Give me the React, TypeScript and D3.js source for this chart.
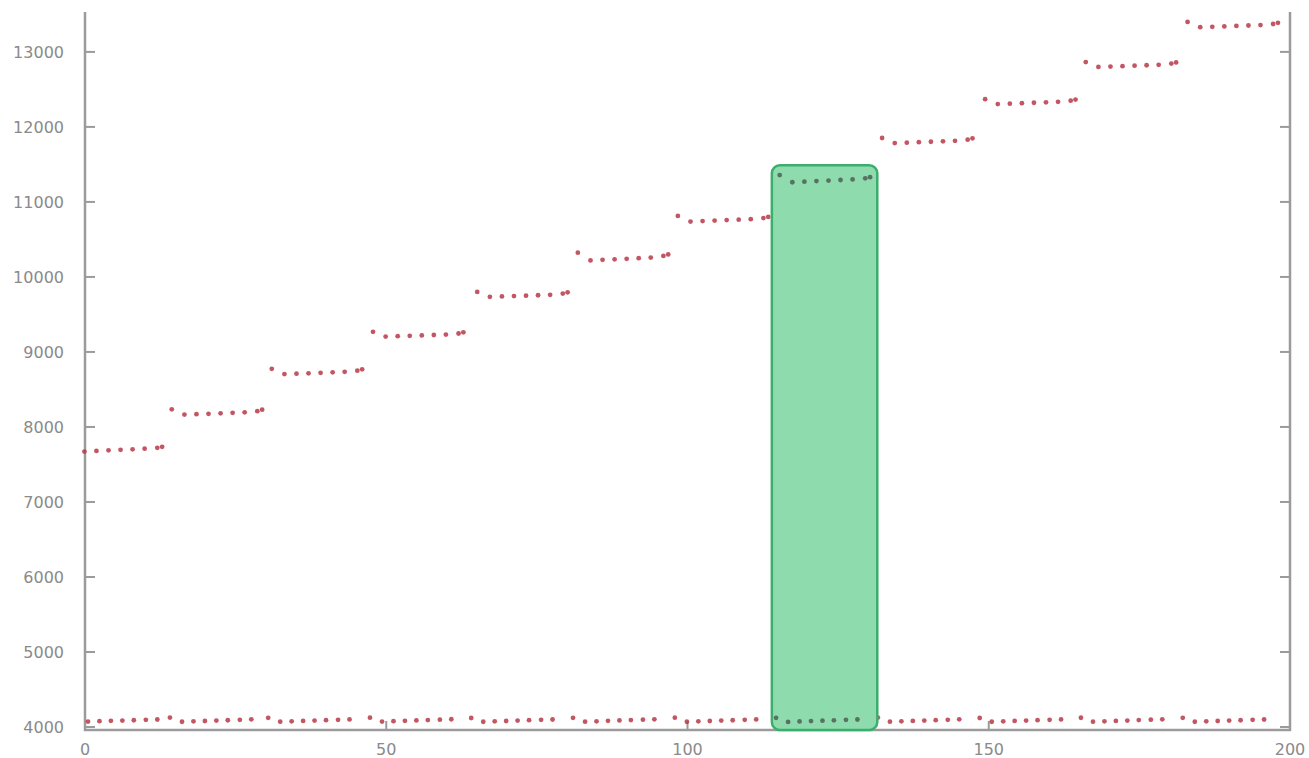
import React, { useEffect, useRef } from 'react';
import * as d3 from 'd3';

// x where each run of readings begins (upper band / lower band)
const upperRunStart = [-2.2, 14.4, 31.0, 47.8, 65.1, 81.8, 98.4, 115.3, 132.3, 149.4, 166.1, 183.0];
const upperRunStep = [0, 2.1, 4.1, 6.1, 8.1, 10.1, 12.1, 14.2, 15.0];
const lowerRunStart = [-1.5, 14.1, 30.4, 47.3, 64.1, 81.0, 97.9, 114.7, 131.6, 148.5, 165.3, 182.2];
const lowerRunStep = [0, 2.0, 3.9, 5.8, 7.7, 9.6, 11.6, 13.5];

const upperRuns = [
  [7735, 7672, 7680, 7688, 7695, 7702, 7710, 7722, 7735],
  [8235, 8165, 8170, 8175, 8182, 8188, 8195, 8210, 8230],
  [8775, 8705, 8710, 8715, 8722, 8728, 8735, 8750, 8768],
  [9268, 9205, 9210, 9215, 9220, 9226, 9232, 9246, 9262],
  [9800, 9735, 9740, 9745, 9750, 9756, 9762, 9778, 9795],
  [10324, 10220, 10228, 10235, 10242, 10250, 10258, 10280, 10300],
  [10813, 10738, 10745, 10752, 10758, 10764, 10770, 10785, 10800],
  [11358, 11262, 11270, 11278, 11285, 11292, 11300, 11315, 11330],
  [11852, 11785, 11790, 11796, 11802, 11808, 11815, 11830, 11848],
  [12370, 12305, 12310, 12316, 12322, 12328, 12334, 12350, 12365],
  [12865, 12800, 12805, 12810, 12816, 12822, 12828, 12845, 12860],
  [13400, 13330, 13335, 13340, 13346, 13352, 13358, 13372, 13388],
];

const lowerRuns = [
  [4120, 4072, 4078, 4082, 4086, 4090, 4095, 4100],
  [4125, 4070, 4075, 4080, 4085, 4090, 4096, 4102],
  [4122, 4071, 4076, 4081, 4086, 4091, 4096, 4101],
  [4124, 4072, 4077, 4082, 4087, 4092, 4097, 4103],
  [4120, 4070, 4075, 4080, 4086, 4091, 4096, 4100],
  [4122, 4071, 4076, 4082, 4087, 4092, 4097, 4102],
  [4124, 4070, 4075, 4080, 4085, 4090, 4095, 4101],
  [4122, 4068, 4074, 4079, 4084, 4089, 4095, 4100],
  [4125, 4071, 4076, 4081, 4086, 4091, 4096, 4102],
  [4120, 4070, 4075, 4081, 4086, 4091, 4096, 4101],
  [4123, 4071, 4076, 4081, 4086, 4092, 4097, 4102],
  [4122, 4070, 4075, 4080, 4085, 4090, 4095, 4100],
];

const xTicks = [0, 50, 100, 150, 200];
const yTicks = [4000, 5000, 6000, 7000, 8000, 9000, 10000, 11000, 12000, 13000];

// highlighted window
const boxX = [114.0, 131.5];
const boxTop = 11490;

const W = 1309;
const H = 758;

export default function App() {
  const ref = useRef<SVGSVGElement>(null);

  useEffect(() => {
    const svg = d3.select(ref.current);
    svg.selectAll('*').remove();

    const left = 85, right = 1290, top = 12, bottom = 730;
    const x = d3.scaleLinear().domain([0, 200]).range([left, right]);
    const y = d3.scaleLinear().domain([3960, 13532]).range([bottom, top]);

    const axisColor = '#9b9b9b';
    const labelColor = '#8a8a8a';

    // frame: left, bottom, right
    svg.append('path')
      .attr('d', `M${left},${top} V${bottom} H${right} V${top}`)
      .attr('fill', 'none')
      .attr('stroke', axisColor)
      .attr('stroke-width', 2.5);

    // y ticks on both sides, pointing inward
    yTicks.forEach((t) => {
      svg.append('line')
        .attr('x1', left).attr('x2', left + 10)
        .attr('y1', y(t)).attr('y2', y(t))
        .attr('stroke', axisColor).attr('stroke-width', 2);
      svg.append('line')
        .attr('x1', right - 10).attr('x2', right)
        .attr('y1', y(t)).attr('y2', y(t))
        .attr('stroke', axisColor).attr('stroke-width', 2);
      svg.append('text')
        .attr('x', left - 21)
        .attr('y', y(t))
        .attr('dy', '0.36em')
        .attr('text-anchor', 'end')
        .attr('font-family', 'DejaVu Sans, sans-serif')
        .attr('font-size', 16)
        .attr('fill', labelColor)
        .text(t);
    });

    xTicks.forEach((t) => {
      svg.append('line')
        .attr('x1', x(t)).attr('x2', x(t))
        .attr('y1', bottom).attr('y2', bottom - 9)
        .attr('stroke', axisColor).attr('stroke-width', 2);
      svg.append('text')
        .attr('x', x(t))
        .attr('y', bottom + 25)
        .attr('text-anchor', 'middle')
        .attr('font-family', 'DejaVu Sans, sans-serif')
        .attr('font-size', 16)
        .attr('fill', labelColor)
        .text(t);
    });

    // build the points
    const pts: { x: number; v: number }[] = [];
    upperRuns.forEach((run, i) => {
      run.forEach((v, j) => pts.push({ x: upperRunStart[i] + upperRunStep[j], v }));
    });
    lowerRuns.forEach((run, i) => {
      run.forEach((v, j) => pts.push({ x: lowerRunStart[i] + lowerRunStep[j], v }));
    });
    const visible = pts.filter((p) => p.x >= -0.3 && p.x <= 200);
    const inBox = (p: { x: number }) => p.x >= boxX[0] && p.x <= boxX[1];

    svg.append('g')
      .selectAll('circle')
      .data(visible.filter((p) => !inBox(p)))
      .enter().append('circle')
      .attr('cx', (d) => x(d.x))
      .attr('cy', (d) => y(d.v))
      .attr('r', 2.4)
      .attr('fill', '#b73a48')
      .attr('opacity', 0.85);

    // green window
    svg.append('rect')
      .attr('x', x(boxX[0]))
      .attr('y', y(boxTop))
      .attr('width', x(boxX[1]) - x(boxX[0]))
      .attr('height', bottom - y(boxTop))
      .attr('rx', 8)
      .attr('fill', '#8edcae')
      .attr('stroke', '#3cae6c')
      .attr('stroke-width', 2.5);

    svg.append('g')
      .selectAll('circle')
      .data(visible.filter(inBox))
      .enter().append('circle')
      .attr('cx', (d) => x(d.x))
      .attr('cy', (d) => y(d.v))
      .attr('r', 2.4)
      .attr('fill', '#4d5f54')
      .attr('opacity', 0.85);
  }, []);

  return (
    <div style={{ position: 'absolute', left: 0, top: 0, width: W, height: H, background: '#fff' }}>
      <svg ref={ref} width={W} height={H} />
    </div>
  );
}
